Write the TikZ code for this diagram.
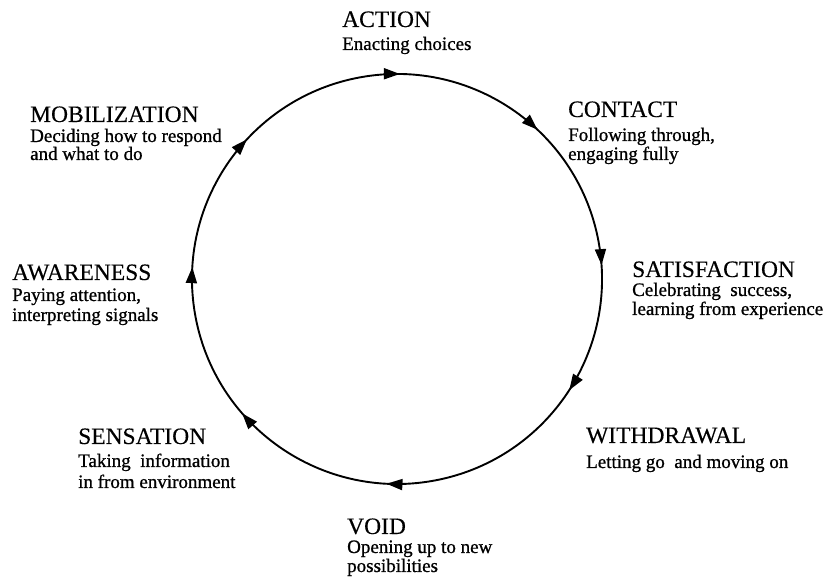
\documentclass[tikz,border=0pt]{standalone}
\usepackage{fontspec}
\setmainfont{Liberation Serif}
\newfontfamily\stagefont[FakeBold=0.3]{Liberation Serif}
\newfontfamily\notefont[FakeBold=0.9]{Liberation Serif}
\usetikzlibrary{decorations.markings,arrows.meta}
\begin{document}
\begin{tikzpicture}[x=1pt,y=1pt,
  stage/.style={anchor=base west,inner sep=0pt,font=\stagefont\fontsize{23.5}{26}\selectfont},
  note/.style={anchor=base west,inner sep=0pt,font=\notefont\fontsize{19}{21}\selectfont},
  ring/.style={line width=1.9pt,postaction={decorate},decoration={markings,
    mark=at position 0.030 with {\arrow{Triangle[length=16pt,width=11pt]}},
    mark=at position 0.148 with {\arrow{Triangle[length=16pt,width=11pt]}},
    mark=at position 0.267 with {\arrow{Triangle[length=16pt,width=11pt]}},
    mark=at position 0.369 with {\arrow{Triangle[length=16pt,width=11pt]}},
    mark=at position 0.536 with {\arrow{Triangle[length=16pt,width=11pt]}},
    mark=at position 0.664 with {\arrow{Triangle[length=16pt,width=11pt]}},
    mark=at position 0.787 with {\arrow{Triangle[length=16pt,width=11pt]}},
    mark=at position 0.897 with {\arrow{Triangle[length=16pt,width=11pt]}}}}]
\useasboundingbox (0,0) rectangle (827,585);

% the cycle, drawn clockwise from just left of the top
\coordinate (c) at (397,306);
\draw[ring] (c) ++(100:205) arc[start angle=100,end angle=-260,radius=205];

% ACTION
\node[stage] (action) at (342,558) {ACTION};
\node[note] (actionA) at (342,535) {Enacting choices};
% CONTACT
\node[stage] (contact) at (568,468) {CONTACT};
\node[note] (contactA) at (568,444) {Following through,};
\node[note] (contactB) at (568,425) {engaging fully};
% SATISFACTION
\node[stage] (satisf) at (632,308) {SATISFACTION};
\node[note] (satisfA) at (632,289) {Celebrating\ \ success,};
\node[note] (satisfB) at (632,270) {learning from experience};
% WITHDRAWAL
\node[stage] (withdraw) at (586,142) {WITHDRAWAL};
\node[note] (withdrawA) at (586,117) {Letting go\ \ and moving on};
% VOID
\node[stage] (void) at (347,51) {VOID};
\node[note] (voidA) at (347,32) {Opening up to new};
\node[note] (voidB) at (347,13) {possibilities};
% SENSATION
\node[stage] (sensation) at (78,141) {SENSATION};
\node[note] (sensationA) at (78,118) {Taking\ \ information};
\node[note] (sensationB) at (78,97) {in from environment};
% AWARENESS
\node[stage] (aware) at (12,305) {AWARENESS};
\node[note] (awareA) at (12,284) {Paying attention,};
\node[note] (awareB) at (12,264) {interpreting signals};
% MOBILIZATION
\node[stage] (mobil) at (30,463) {MOBILIZATION};
\node[note] (mobilA) at (30,443) {Deciding how to respond};
\node[note] (mobilB) at (30,425) {and what to do};
\end{tikzpicture}
\end{document}
